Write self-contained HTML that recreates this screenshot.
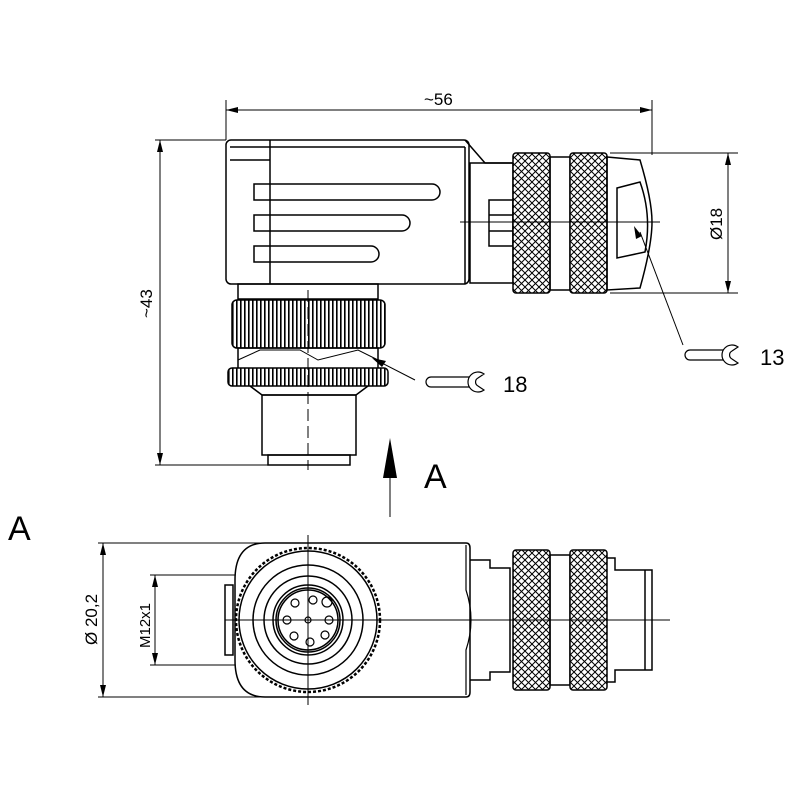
<!DOCTYPE html>
<html><head><style>body{margin:0;background:#fff}svg{display:block}</style></head><body>
<svg width="800" height="800" viewBox="0 0 800 800" xmlns="http://www.w3.org/2000/svg" font-family="Liberation Sans, DejaVu Sans, sans-serif">
<defs>
<pattern id="kn" width="7" height="7" patternUnits="userSpaceOnUse">
<rect width="7" height="7" fill="#fff"/>
<path d="M0,0L7,7M7,0L0,7" stroke="#000" stroke-width="1"/>
</pattern>
<pattern id="vr" width="4" height="10" patternUnits="userSpaceOnUse">
<rect width="4" height="10" fill="#fff"/><rect width="1.6" height="10" fill="#000"/>
</pattern>
</defs>
<g fill="none" stroke="#000" stroke-width="1.5">
<rect x="226" y="140" width="243" height="144" rx="5" fill="#fff"/>
<line x1="270" y1="140" x2="270" y2="284"/>
<line x1="230" y1="147" x2="465" y2="147"/>
<line x1="230" y1="160" x2="270" y2="160"/>
<line x1="465" y1="147" x2="465" y2="284"/>
<path d="M465,140 L485,163 L513,163"/>
<rect x="470" y="163" width="43" height="120"/>
<rect x="489" y="200" width="24" height="46"/>
<line x1="489" y1="215" x2="513" y2="215"/><line x1="489" y1="231" x2="513" y2="231"/>
<path d="M254,184 H432 A8,8 0 0 1 432,200 H254 Z"/>
<path d="M254,215 H402 A8,8 0 0 1 402,231 H254 Z"/>
<path d="M254,246 H371 A8,8 0 0 1 371,262 H254 Z"/>
<rect x="513" y="153" width="37" height="140" rx="3" fill="url(#kn)"/>
<rect x="550" y="157" width="20" height="133"/>
<rect x="570" y="153" width="37" height="140" rx="3" fill="url(#kn)"/>
<path d="M607,157 L640,160 Q652,200 652,222 Q652,245 640,288 L607,290 Z"/>
<path d="M617,188 L640,182 Q652,215 645,252 L617,258 Z"/>
<line x1="460" y1="222" x2="660" y2="222" stroke-width="1"/>
<rect x="238" y="284" width="140" height="15"/>
<rect x="232" y="300" width="153" height="48" rx="5" fill="url(#vr)"/>
<path d="M238,348 L378,348 L378,370 L238,370 Z"/>
<path d="M238,360 L260,350 L300,350 L318,360 L358,350 L378,360" stroke-width="1"/>
<rect x="228" y="368" width="160" height="18" rx="4" fill="url(#vr)" stroke-width="1.5"/>
<path d="M250,386 L262,395 H356 L368,386"/>
<rect x="262" y="395" width="94" height="60"/>
<rect x="268" y="455" width="82" height="10"/>
<line x1="308" y1="290" x2="308" y2="470" stroke-width="1" stroke-dasharray="12,5"/>
<g stroke-width="1">
<line x1="226" y1="100" x2="226" y2="140"/><line x1="652" y1="100" x2="652" y2="155"/>
<line x1="226" y1="110" x2="652" y2="110"/>
<line x1="155" y1="140" x2="226" y2="140"/><line x1="155" y1="465" x2="268" y2="465"/>
<line x1="160" y1="140" x2="160" y2="465"/>
<line x1="610" y1="153" x2="738" y2="153"/><line x1="610" y1="293" x2="738" y2="293"/>
<line x1="728" y1="153" x2="728" y2="293"/>
<line x1="380" y1="362" x2="415" y2="380"/>
<line x1="640" y1="232" x2="683" y2="345"/>
<line x1="390" y1="470" x2="390" y2="517"/>
<line x1="98" y1="543" x2="308" y2="543"/><line x1="98" y1="697" x2="308" y2="697"/>
<line x1="103" y1="543" x2="103" y2="697"/>
<line x1="150" y1="575" x2="308" y2="575"/><line x1="150" y1="665" x2="308" y2="665"/>
<line x1="155" y1="575" x2="155" y2="665"/>
</g>
<g stroke-width="1.2" fill="#fff">
<path d="M470,377 H431 A5,5 0 0 0 431,387 H470"/>
<path d="M484,374 A10,10 0 1 0 484,390 L478,386 A4.5,4.5 0 0 1 478,378 Z"/>
<path d="M724,350 H690 A5,5 0 0 0 690,360 H724"/>
<path d="M738,347 A10,10 0 1 0 738,363 L732,359 A4.5,4.5 0 0 1 732,351 Z"/>
</g>
<path d="M265,543 H466 Q470,543 470,548 V692 Q470,697 466,697 H265 Q235,697 235,660 V580 Q235,543 265,543 Z" fill="#fff"/>
<rect x="225" y="585" width="8" height="70"/>
<circle cx="308" cy="620" r="72" fill="#fff" stroke-dasharray="3,2" stroke-width="2.5"/>
<circle cx="308" cy="620" r="69" fill="#fff"/>
<circle cx="308" cy="620" r="55"/>
<circle cx="308" cy="620" r="44"/>
<circle cx="308" cy="620" r="35"/>
<circle cx="308" cy="620" r="32"/>
<circle cx="308" cy="620" r="30"/>
<g stroke-width="1.2"><circle cx="295" cy="603" r="4"/><circle cx="313" cy="600" r="4"/><circle cx="327" cy="602" r="5"/><circle cx="287" cy="620" r="4"/><circle cx="329" cy="620" r="4"/><circle cx="294" cy="636" r="4"/><circle cx="310" cy="642" r="4"/><circle cx="325" cy="635" r="4"/><circle cx="308" cy="620" r="3"/></g>
<path d="M466,545 L466,590 Q476,620 466,650 L466,695" stroke-width="1.2"/>
<path d="M470,560 H490 V568 H510 V672 H490 V680 H470"/>
<rect x="513" y="550" width="37" height="140" rx="3" fill="url(#kn)"/>
<rect x="550" y="555" width="20" height="130"/>
<rect x="570" y="550" width="37" height="140" rx="3" fill="url(#kn)"/>
<path d="M607,558 H615 V570 H652 V670 H615 V682 H607"/>
<line x1="645" y1="570" x2="645" y2="670"/>
<line x1="225" y1="620" x2="670" y2="620" stroke-width="1"/>
<line x1="308" y1="535" x2="308" y2="705" stroke-width="1"/>
</g>
<g fill="#000">
<path d="M226,110 l12,-3 v6 Z"/><path d="M652,110 l-12,-3 v6 Z"/>
<path d="M160,140 l-3,12 h6 Z"/><path d="M160,465 l-3,-12 h6 Z"/>
<path d="M728,153 l-3,12 h6 Z"/><path d="M728,293 l-3,-12 h6 Z"/>
<path d="M372,358 l14,3 -4,6 Z"/>
<path d="M634,226 l8,10 -6,3 Z"/>
<path d="M390,438 l-7,40 h14 Z"/>
<path d="M103,543 l-3,12 h6 Z"/><path d="M103,697 l-3,-12 h6 Z"/>
<path d="M155,575 l-3,12 h6 Z"/><path d="M155,665 l-3,-12 h6 Z"/>
</g>
<g fill="#000" font-size="17">
<text x="424" y="105">~56</text>
<text transform="translate(152,318) rotate(-90)">~43</text>
<text transform="translate(722,240) rotate(-90)">Ø18</text>
<text x="503" y="392" font-size="22">18</text>
<text x="760" y="365" font-size="22">13</text>
<text x="424" y="488" font-size="34">A</text>
<text x="8" y="540" font-size="34">A</text>
<text transform="translate(97,645) rotate(-90)">Ø 20,2</text>
<text transform="translate(150,648) rotate(-90)" font-size="15">M12x1</text>
</g>
</svg>
</body></html>
